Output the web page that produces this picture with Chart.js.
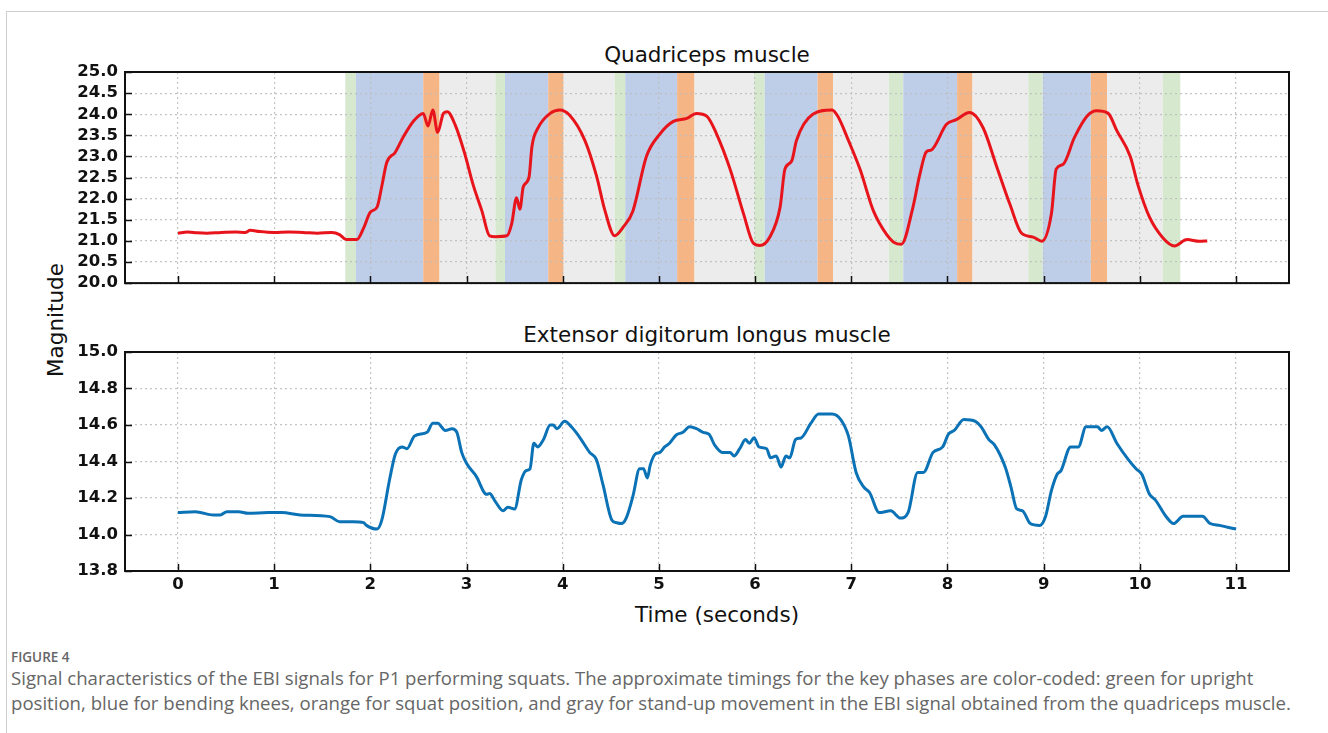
<!DOCTYPE html>
<html>

<head>
  <meta charset="UTF-8">
  <title>Figure 4</title>
  <script src="https://cdn.jsdelivr.net/npm/chart.js"></script>
  <style>
    body {
      margin: 0;
      width: 1328px;
      height: 733px;
      overflow: hidden;
      background: #fff;
      font-family: "DejaVu Sans", sans-serif;
      position: relative;
    }

    .frame {
      position: absolute;
      left: 6px;
      top: 11px;
      width: 1400px;
      height: 800px;
      border-left: 1px solid #cfcfcf;
      border-top: 1px solid #cfcfcf;
    }

    canvas {
      position: absolute;
      left: 0;
    }

    .lbl {
      position: absolute;
      color: #111;
      font-size: 21.5px;
      white-space: nowrap;
      transform: translate(-50%, -50%);
    }

    .ylab {
      transform: translate(-50%, -50%) rotate(-90deg);
    }

    .fig {
      position: absolute;
      left: 11px;
      top: 648px;
      font-family: "Open Sans", sans-serif;
      font-size: 13.5px;
      font-weight: 600;
      color: #666;
    }

    .caption {
      position: absolute;
      left: 11px;
      top: 665px;
      font-family: "Open Sans", sans-serif;
      font-size: 18.6px;
      line-height: 25px;
      color: #666;
      white-space: nowrap;
    }
  </style>
</head>

<body>
  <div class="frame"></div>

  <div class="lbl" style="left:707px;top:54px">Quadriceps muscle</div>
  <div class="lbl" style="left:707px;top:334px">Extensor digitorum longus muscle</div>
  <div class="lbl ylab" style="left:55px;top:320px">Magnitude</div>
  <div class="lbl" style="left:717px;top:614px">Time (seconds)</div>

  <canvas id="quadChart" style="top:0" width="1328" height="300"></canvas>
  <canvas id="edlChart" style="top:300px" width="1328" height="300"></canvas>

  <div class="fig">FIGURE 4</div>
  <div class="caption">Signal characteristics of the EBI signals for P1 performing squats. The approximate timings for the key phases are color-coded: green for upright<br>position, blue for bending knees, orange for squat position, and gray for stand-up movement in the EBI signal obtained from the quadriceps muscle.</div>

  <script>
    // time ticks (seconds)
    const xTicks = [0, 1, 2, 3, 4, 5, 6, 7, 8, 9, 10, 11];
    const quadTicks = [20.0, 20.5, 21.0, 21.5, 22.0, 22.5, 23.0, 23.5, 24.0, 24.5, 25.0];
    const edlTicks = [13.8, 14.0, 14.2, 14.4, 14.6, 14.8, 15.0];

    // phase boundaries (s) and which phase each interval is
    const phaseBounds = [1.74, 1.85, 2.55, 2.72, 3.30, 3.40, 3.85, 4.01, 4.54, 4.65, 5.19, 5.37, 5.99, 6.10,
      6.65, 6.81, 7.39, 7.54, 8.10, 8.26, 8.84, 8.99, 9.49, 9.66, 10.24, 10.42];
    const phaseKinds = ['upright', 'bending', 'squat', 'standup', 'upright', 'bending', 'squat', 'standup',
      'upright', 'bending', 'squat', 'standup', 'upright', 'bending', 'squat', 'standup',
      'upright', 'bending', 'squat', 'standup', 'upright', 'bending', 'squat', 'standup', 'upright'];
    const phaseColors = {
      upright: 'rgb(214,233,207)',
      bending: 'rgb(190,205,232)',
      squat: 'rgb(246,181,132)',
      standup: 'rgb(236,236,236)'
    };

    // quadriceps EBI signal
    const quadTime = [0, 0.1, 0.2, 0.3, 0.45, 0.6, 0.7, 0.75, 0.85, 1.0, 1.15, 1.3, 1.45, 1.6,
      1.68, 1.75, 1.86,
      1.93, 2.0, 2.07, 2.12, 2.17, 2.26, 2.34, 2.45, 2.55,
      2.6, 2.65, 2.7, 2.76, 2.8,
      2.88, 2.98, 3.07, 3.16, 3.24, 3.3, 3.42,
      3.47, 3.52, 3.555, 3.59, 3.65, 3.68, 3.745, 3.87, 3.97,
      4.07, 4.23, 4.35, 4.44, 4.54,
      4.63, 4.73, 4.87, 5.01, 5.15, 5.29, 5.39,
      5.5, 5.6, 5.74, 5.88, 5.98, 6.05,
      6.15, 6.26, 6.31, 6.38, 6.43, 6.6, 6.8,
      6.86, 6.97, 7.09, 7.23, 7.37, 7.44, 7.52,
      7.64, 7.71, 7.78, 7.83, 7.99, 8.09, 8.23,
      8.37, 8.51, 8.65, 8.77, 8.89, 8.98,
      9.08, 9.13, 9.2, 9.32, 9.45, 9.55,
      9.67, 9.76, 9.9, 9.98, 10.1, 10.24, 10.36, 10.49, 10.62, 10.7];
    const quadValues = [21.18, 21.21, 21.19, 21.18, 21.2, 21.21, 21.2, 21.25, 21.22, 21.2, 21.21, 21.2, 21.18, 21.2,
      21.15, 21.03, 21.03,
      21.3, 21.68, 21.8, 22.3, 22.85, 23.1, 23.45, 23.84, 24.02,
      23.72, 24.1, 23.57, 24.02, 24.06,
      23.76, 23.08, 22.32, 21.71, 21.12, 21.1, 21.12,
      21.41, 22.02, 21.75, 22.28, 22.51, 23.23, 23.68, 24.02, 24.1,
      23.98, 23.38, 22.55, 21.71, 21.12,
      21.33, 21.71, 23.0, 23.53, 23.83, 23.9, 24.02,
      23.95, 23.53, 22.7, 21.64, 20.95, 20.89,
      21.08, 21.8, 22.7, 22.89, 23.38, 24.0, 24.1,
      23.95, 23.38, 22.7, 21.71, 21.14, 20.97, 20.92,
      21.79, 22.55, 23.11, 23.15, 23.76, 23.87, 24.04,
      23.68, 22.77, 21.86, 21.18, 21.09, 20.99,
      21.64, 22.7, 22.81, 23.45, 23.95, 24.08,
      24.02, 23.61, 23.0, 22.32, 21.56, 21.07, 20.88, 21.03, 20.99, 21.0];

    // extensor digitorum longus EBI signal
    const edlTime = [0, 0.18, 0.37, 0.44, 0.51, 0.63, 0.73, 0.94, 1.08, 1.27, 1.58, 1.68, 1.82, 1.93, 1.96,
      2.07, 2.12, 2.20, 2.26, 2.33, 2.38, 2.46, 2.59, 2.65, 2.70, 2.78, 2.85, 2.90,
      2.95, 3.00, 3.10, 3.21, 3.24, 3.30, 3.38, 3.43, 3.50,
      3.57, 3.62, 3.66, 3.70, 3.74, 3.80, 3.87, 3.90, 3.94, 4.02,
      4.09, 4.18, 4.28, 4.35, 4.42, 4.51, 4.56, 4.61,
      4.66, 4.73, 4.80, 4.84, 4.88, 4.91, 4.96, 5.01, 5.06, 5.11, 5.18, 5.25, 5.32,
      5.39, 5.46, 5.52, 5.58, 5.66, 5.74, 5.78, 5.84, 5.90, 5.94, 5.99, 6.04, 6.12, 6.16, 6.22, 6.27, 6.32, 6.36,
      6.42, 6.48, 6.58, 6.66, 6.80,
      6.89, 6.97, 7.05, 7.13, 7.19, 7.29, 7.41, 7.51, 7.59,
      7.69, 7.75, 7.85, 7.95, 8.01, 8.07, 8.17, 8.29,
      8.35, 8.43, 8.49, 8.60, 8.66, 8.72, 8.78, 8.86, 8.96,
      9.02, 9.08, 9.14, 9.18, 9.28, 9.36, 9.44, 9.56, 9.60, 9.66,
      9.76, 9.88, 9.96, 10.02, 10.10, 10.16, 10.27, 10.35,
      10.45, 10.57, 10.65, 10.73, 10.83, 10.91, 11.0];
    const edlValues = [14.12, 14.125, 14.107, 14.107, 14.125, 14.125, 14.116, 14.12, 14.12, 14.107, 14.098, 14.07, 14.07, 14.065, 14.05,
      14.03, 14.08, 14.30, 14.44, 14.48, 14.47, 14.54, 14.56, 14.61, 14.61, 14.57, 14.58, 14.56,
      14.45, 14.39, 14.32, 14.22, 14.225, 14.18, 14.13, 14.15, 14.14,
      14.30, 14.35, 14.36, 14.50, 14.48, 14.52, 14.60, 14.60, 14.58, 14.62,
      14.59, 14.53, 14.45, 14.41, 14.27, 14.08, 14.065, 14.06,
      14.09, 14.21, 14.36, 14.36, 14.31, 14.38, 14.44, 14.45, 14.48, 14.50, 14.545, 14.56, 14.59,
      14.58, 14.56, 14.55, 14.49, 14.45, 14.45, 14.43, 14.47, 14.52, 14.50, 14.53, 14.48, 14.47, 14.42, 14.43, 14.37, 14.43, 14.42,
      14.52, 14.53, 14.61, 14.66, 14.66,
      14.63, 14.54, 14.34, 14.26, 14.23, 14.12, 14.13, 14.09, 14.12,
      14.34, 14.34, 14.45, 14.48, 14.55, 14.57, 14.63, 14.62,
      14.59, 14.52, 14.49, 14.37, 14.26, 14.14, 14.13, 14.06, 14.05,
      14.10, 14.24, 14.33, 14.35, 14.48, 14.48, 14.59, 14.59, 14.57, 14.59,
      14.50, 14.41, 14.36, 14.33, 14.22, 14.19, 14.10, 14.06,
      14.10, 14.10, 14.10, 14.06, 14.05, 14.04, 14.03];

    const X_MIN = -0.55, X_MAX = 11.55;

    // coloured phase spans, painted under the grid
    const phaseBands = {
      id: 'phaseBands',
      beforeDraw(chart) {
        const { ctx, chartArea: a, scales: { x } } = chart;
        ctx.save();
        for (let i = 0; i < phaseKinds.length; i++) {
          const x0 = x.getPixelForValue(phaseBounds[i]);
          const x1 = x.getPixelForValue(phaseBounds[i + 1]);
          ctx.fillStyle = phaseColors[phaseKinds[i]];
          ctx.fillRect(x0, a.top, x1 - x0, a.height);
        }
        ctx.restore();
      }
    };

    // box around plot + inward tick marks
    const boxTicks = {
      id: 'boxTicks',
      afterDraw(chart) {
        const { ctx, chartArea: a, scales: { x, y } } = chart;
        ctx.save();
        ctx.strokeStyle = '#111';
        ctx.lineWidth = 1.5;
        ctx.beginPath();
        x.ticks.forEach(t => {
          const px = Math.round(x.getPixelForValue(t.value)) + 0.5;
          ctx.moveTo(px, a.bottom);
          ctx.lineTo(px, a.bottom - 7);
        });
        y.ticks.forEach(t => {
          const py = Math.round(y.getPixelForValue(t.value)) + 0.5;
          ctx.moveTo(a.left, py);
          ctx.lineTo(a.left + 7, py);
        });
        ctx.stroke();
        ctx.lineWidth = 2;
        ctx.strokeRect(a.left, a.top, a.width, a.height);
        ctx.restore();
      }
    };

    const gridOpts = { color: 'rgba(190,190,190,0.9)', lineWidth: 1.2, drawTicks: false };
    const borderOpts = { display: false, dash: [2, 3] };
    const tickFont = { family: 'DejaVu Sans', size: 16.5, weight: 'bold' };

    function makeChart(id, time, values, color, yMin, yMax, yTicks, showX, plugins, pad) {
      const ctx = document.getElementById(id).getContext('2d');
      return new Chart(ctx, {
        type: 'line',
        data: {
          datasets: [{
            data: time.map((t, i) => ({ x: t, y: values[i] })),
            borderColor: color,
            borderWidth: 3,
            pointRadius: 0,
            cubicInterpolationMode: 'monotone',
            fill: false
          }]
        },
        options: {
          responsive: false,
          animation: false,
          events: [],
          layout: { padding: pad },
          plugins: { legend: { display: false }, tooltip: { enabled: false } },
          scales: {
            x: {
              type: 'linear',
              min: X_MIN,
              max: X_MAX,
              afterBuildTicks: s => { s.ticks = xTicks.map(v => ({ value: v })); },
              afterFit: s => { s.height = showX ? 29 : 0; },
              grid: gridOpts,
              border: borderOpts,
              ticks: { display: showX, autoSkip: false, maxRotation: 0, color: '#111', font: tickFont, padding: 4 }
            },
            y: {
              min: yMin,
              max: yMax,
              afterBuildTicks: s => { s.ticks = yTicks.map(v => ({ value: v })); },
              afterFit: s => { s.width = 125; },
              grid: gridOpts,
              border: borderOpts,
              ticks: {
                autoSkip: false,
                color: '#111', font: tickFont, padding: 7,
                callback: v => v.toFixed(1)
              }
            }
          }
        },
        plugins: plugins
      });
    }

    makeChart('quadChart', quadTime, quadValues, '#e8141c', 20, 25, quadTicks, false,
      [phaseBands, boxTicks], { left: 0, right: 39, top: 72, bottom: 8 });
    makeChart('edlChart', edlTime, edlValues, '#0b72b6', 13.8, 15.0, edlTicks, true,
      [boxTicks], { left: 0, right: 39, top: 52, bottom: 0 });
  </script>
</body>

</html>
